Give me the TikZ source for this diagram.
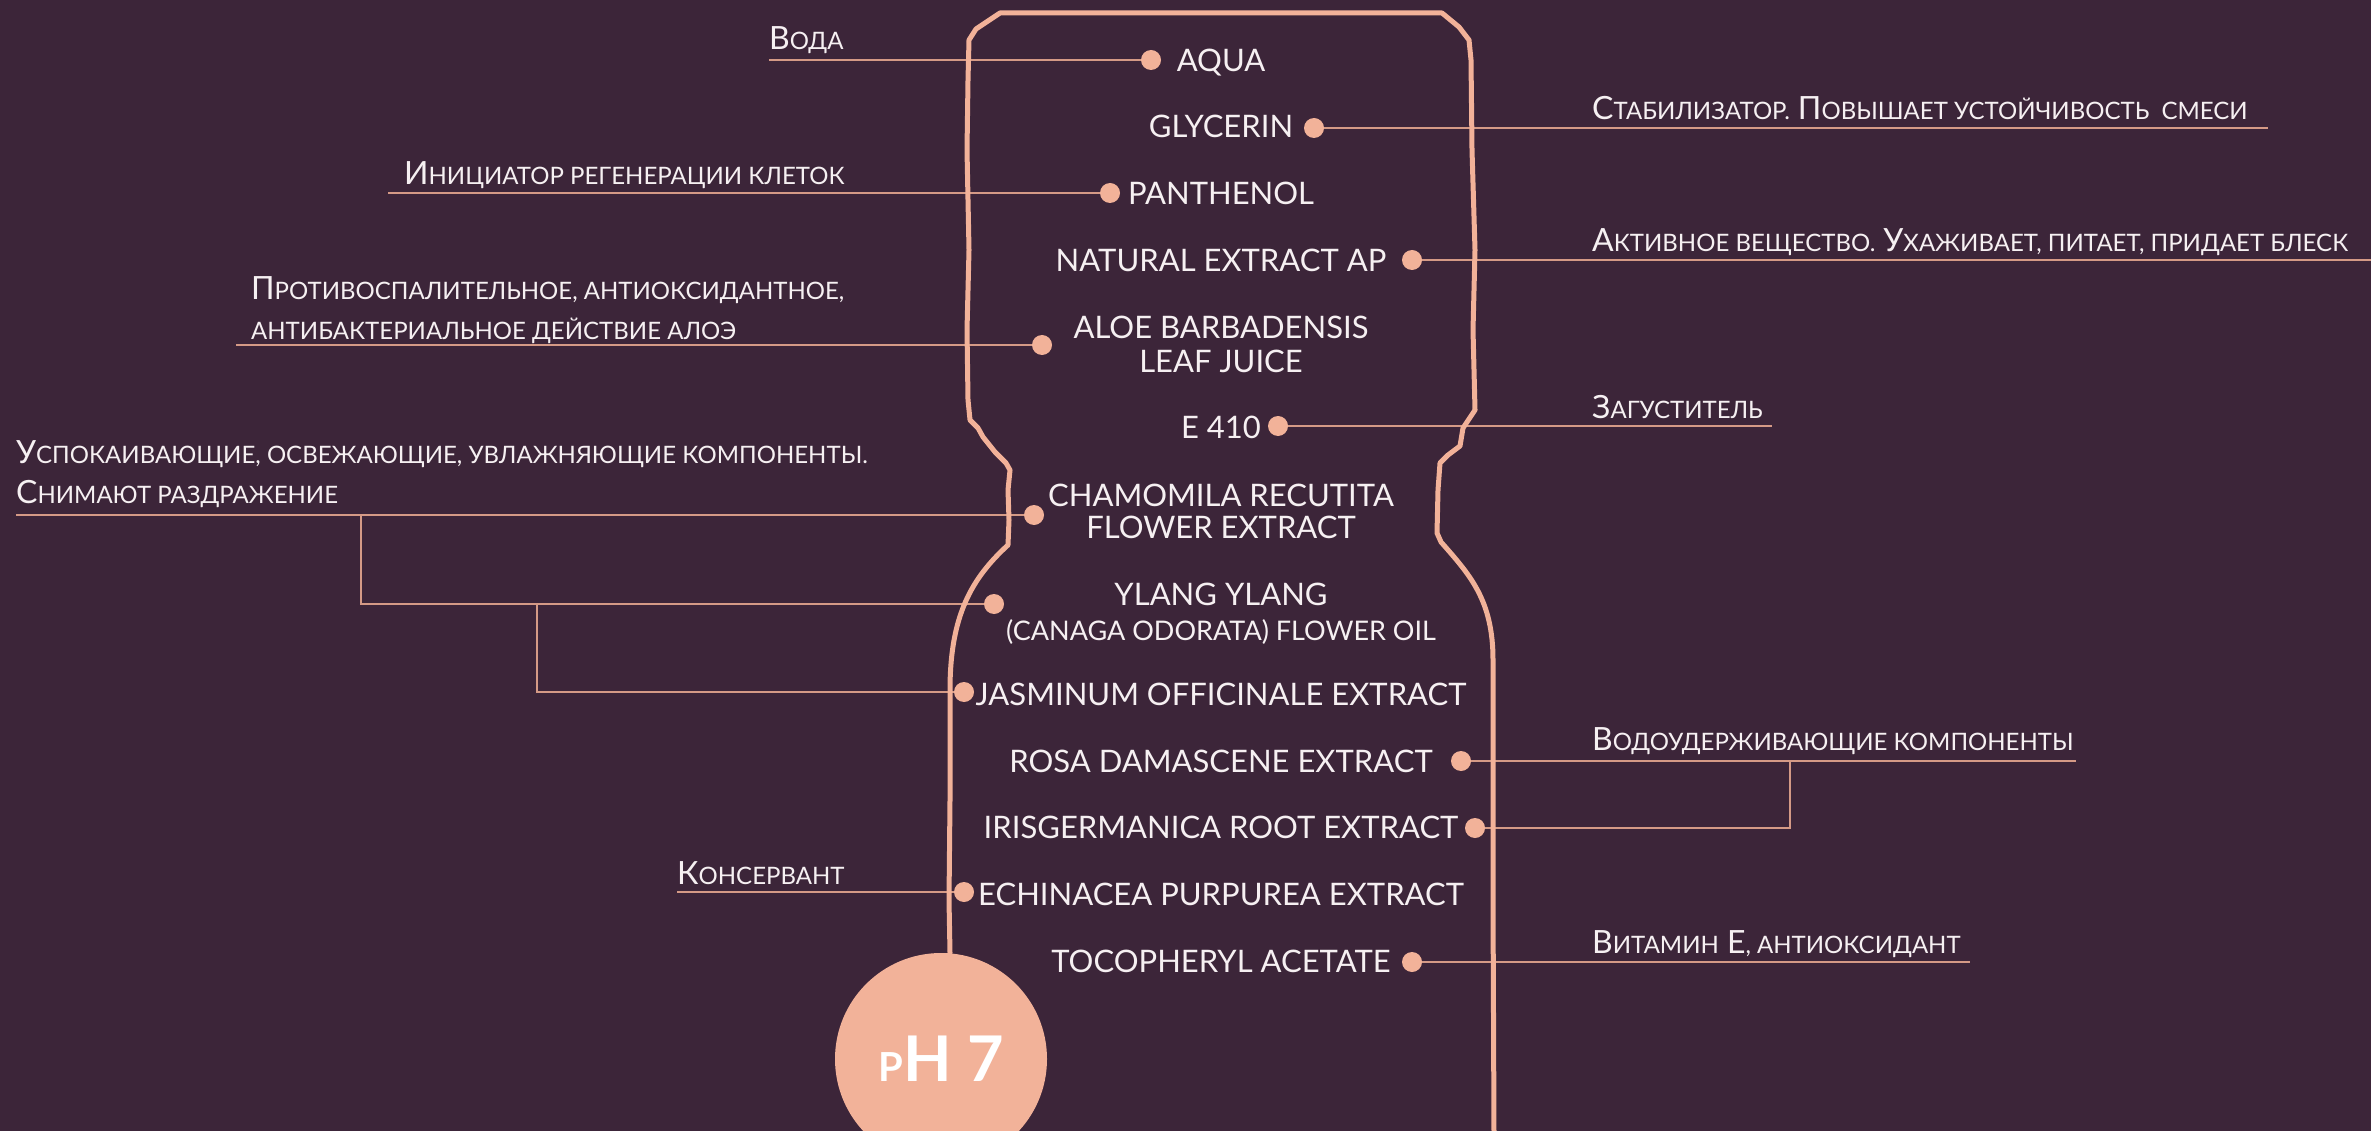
\documentclass[tikz,border=0pt]{standalone}
\usepackage{fontspec}
\setmainfont{Lato}
\definecolor{bgc}{HTML}{3C2539}
\definecolor{peach}{HTML}{F2B299}
\definecolor{wirec}{HTML}{D59A86}
\definecolor{ink}{HTML}{F6F0F2}
\newcommand\lc[1]{{\fontsize{24}{24}\selectfont #1}}
\pgfdeclarelayer{back}
\pgfdeclarelayer{mid}
\pgfsetlayers{back,mid,main}
\tikzset{
  ingr/.style={text=ink, font=\fontsize{31}{31}\selectfont, inner sep=0pt, anchor=base},
  ingrs/.style={text=ink, font=\fontsize{27}{27}\selectfont, inner sep=0pt, anchor=base},
  lbl/.style={text=ink, font=\fontsize{32}{32}\selectfont, inner sep=0pt, anchor=base west},
  pdot/.style={circle, fill=peach, minimum size=20pt, inner sep=0pt},
  wire/.style={draw=wirec, line width=2pt},
  bottle/.style={draw=peach, line width=5pt, line join=round, line cap=round},
}
\begin{document}
\begin{tikzpicture}[x=1pt,y=-1pt]
\useasboundingbox (0,0) rectangle (2371,1131);
\begin{pgfonlayer}{back}
\fill[bgc] (0,0) rectangle (2371,1131);
\end{pgfonlayer}

% ingredient names
\node[ingr] (aqua) at (1221,72) {AQUA};
\node[ingr] (glyc) at (1221,138) {GLYCERIN};
\node[ingr] (panth) at (1221,205) {PANTHENOL};
\node[ingr] (natur) at (1221,272) {NATURAL EXTRACT AP};
\node[ingr] (aloe) at (1221,338) {ALOE BARBADENSIS};
\node[ingr] (aloeb) at (1221,372) {LEAF JUICE};
\node[ingr] (e410) at (1221,438) {E 410};
\node[ingr] (cham) at (1221,506) {CHAMOMILA RECUTITA};
\node[ingr] (chamb) at (1221,538) {FLOWER EXTRACT};
\node[ingr] (ylang) at (1221,605) {YLANG YLANG};
\node[ingrs] (ylangb) at (1221,640) {(CANAGA ODORATA) FLOWER OIL};
\node[ingr] (jasm) at (1221,705) {JASMINUM OFFICINALE EXTRACT};
\node[ingr] (rosa) at (1221,772) {ROSA DAMASCENE EXTRACT};
\node[ingr] (iris) at (1221,838) {IRISGERMANICA ROOT EXTRACT};
\node[ingr] (echin) at (1221,905) {ECHINACEA PURPUREA EXTRACT};
\node[ingr] (toco) at (1221,972) {TOCOPHERYL ACETATE};

% dots
\node[pdot] (daqua) at (1151,60) {};
\node[pdot] (dglyc) at (1314,128) {};
\node[pdot] (dpanth) at (1110,193) {};
\node[pdot] (dnatur) at (1412,260) {};
\node[pdot] (daloe) at (1042,345) {};
\node[pdot] (de410) at (1278,426) {};
\node[pdot] (dcham) at (1034,515) {};
\node[pdot] (dylang) at (994,604) {};
\node[pdot] (djasm) at (964,692) {};
\node[pdot] (drosa) at (1461,761) {};
\node[pdot] (diris) at (1475,828) {};
\node[pdot] (dechin) at (964,892) {};
\node[pdot] (dtoco) at (1412,962) {};

% left labels
\node[lbl] (lvoda) at (769,50) {В\lc{ОДА}};
\node[lbl] (linit) at (404,185) {И\lc{НИЦИАТОР РЕГЕНЕРАЦИИ КЛЕТОК}};
\node[lbl] (lprot) at (251,300) {П\lc{РОТИВОСПАЛИТЕЛЬНОЕ, АНТИОКСИДАНТНОЕ,}};
\node[lbl] (lprotb) at (251,340) {\lc{АНТИБАКТЕРИАЛЬНОЕ ДЕЙСТВИЕ АЛОЭ}};
\node[lbl] (luspo) at (16,463) {У\lc{СПОКАИВАЮЩИЕ, ОСВЕЖАЮЩИЕ, УВЛАЖНЯЮЩИЕ КОМПОНЕНТЫ.}};
\node[lbl] (luspob) at (16,503) {С\lc{НИМАЮТ РАЗДРАЖЕНИЕ}};
\node[lbl] (lkons) at (677,884) {К\lc{ОНСЕРВАНТ}};
% right labels
\node[lbl] (lstab) at (1592,120) {С\lc{ТАБИЛИЗАТОР.} П\lc{ОВЫШАЕТ УСТОЙЧИВОСТЬ~~СМЕСИ}};
\node[lbl] (lakt) at (1592,252) {А\lc{КТИВНОЕ ВЕЩЕСТВО.} У\lc{ХАЖИВАЕТ, ПИТАЕТ, ПРИДАЕТ БЛЕСК}};
\node[lbl] (lzag) at (1592,418) {З\lc{АГУСТИТЕЛЬ}};
\node[lbl] (lvodo) at (1592,750) {В\lc{ОДОУДЕРЖИВАЮЩИЕ КОМПОНЕНТЫ}};
\node[lbl] (lvit) at (1592,953) {В\lc{ИТАМИН} Е\lc{, АНТИОКСИДАНТ}};

% pH circle
\node[circle, fill=peach, minimum size=212pt, inner sep=0pt, text=white,
      font=\bfseries] (ph) at (941,1059)
  {{\fontsize{40}{40}\selectfont P}{\fontsize{63}{63}\selectfont H 7}};

% connector ends
\coordinate (cvoda) at (769,60);
\coordinate (cinit) at (388,193);
\coordinate (cprot) at (236,345);
\coordinate (cuspo) at (16,515);
\coordinate (ju1) at (361,515);
\coordinate (ju2) at (537,604);
\coordinate (ckons) at (677,892);
\coordinate (cstab) at (2268,128);
\coordinate (cakt) at (2371,260);
\coordinate (czag) at (1772,426);
\coordinate (cvodo) at (2076,761);
\coordinate (ju3) at (1790,761);
\coordinate (cvit) at (1970,962);

\begin{pgfonlayer}{back}
\draw[wire] (cvoda) -- (daqua);
\draw[wire] (cinit) -- (dpanth);
\draw[wire] (cprot) -- (daloe);
\draw[wire] (cuspo) -- (dcham);
\draw[wire] (ju1) |- (dylang);
\draw[wire] (ju2) |- (djasm);
\draw[wire] (ckons) -- (dechin);
\draw[wire] (dglyc) -- (cstab);
\draw[wire] (dnatur) -- (cakt);
\draw[wire] (de410) -- (czag);
\draw[wire] (drosa) -- (cvodo);
\draw[wire] (ju3) |- (diris);
\draw[wire] (dtoco) -- (cvit);
\end{pgfonlayer}

\begin{pgfonlayer}{mid}
\draw[bottle] (950,953) -- (949,900) -- (950,800) -- (950,690)
  .. controls (950,615) and (972,578) .. (1008,545)
  -- (1009,520) -- (1008,490) -- (1010,470) -- (1006,463) -- (995,452)
  -- (983,437) -- (978,428) -- (970,420) -- (968,400) -- (967,330)
  -- (969,250) -- (967,150) -- (968,80) -- (969,40) -- (976,29)
  -- (1000,13) -- (1442,13) -- (1459,27) -- (1469,40) -- (1471,60)
  -- (1472,150) -- (1475,250) -- (1473,330) -- (1475,410) -- (1463,428)
  -- (1460,446) -- (1448,455) -- (1440,463) -- (1438,490) -- (1437,533)
  -- (1441,542)
  .. controls (1470,575) and (1493,600) .. (1493,660)
  -- (1493,900) -- (1494,1135);
\end{pgfonlayer}
\end{tikzpicture}
\end{document}
